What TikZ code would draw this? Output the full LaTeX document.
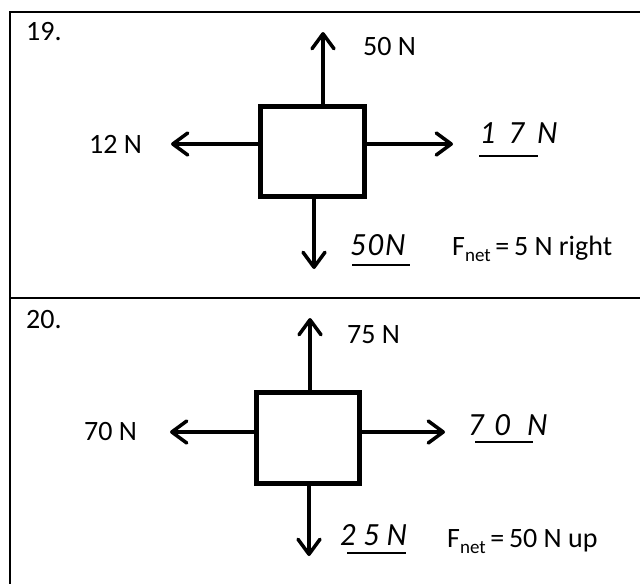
\documentclass[tikz,border=0pt]{standalone}
\usepackage{fontspec}
\setmainfont{Carlito}
\newfontfamily\handfont{Lato}[UprightFont=* Italic]
\usetikzlibrary{arrows.meta}
\tikzset{force/.style={line width=3.5pt, line cap=round,
		-{Straight Barb[length=15pt,width=22pt,round]}
}}
\tikzset{body/.style={draw, line width=5pt, fill=white, inner sep=0pt, outer sep=0pt}}
\tikzset{lbl/.style={font=\fontsize{28}{30}\selectfont, anchor=base west, inner sep=0pt}}
\tikzset{handlbl/.style={font=\handfont\fontsize{29}{30}\selectfont\addfontfeatures{LetterSpace=#1},
		anchor=base west, inner sep=0pt}}
\tikzset{answer/.style={line width=2pt}}
\newcommand{\fnet}{F\raisebox{-0.22em}{\fontsize{19}{20}\selectfont net}\,=\,}

\begin{document}
\begin{tikzpicture}[x=1pt, y=-1pt]
  \useasboundingbox (0,0) rectangle (640,584);
  % frame
  \draw[line width=1.8pt] (640,12)--(10,12)--(10,584);
  \draw[line width=1.8pt] (10,298)--(640,298);

  % 19.
  \node[lbl] (num19) at (26,40) {19.};
  \node[body, minimum width=104pt, minimum height=90pt] (box19) at (312,151) {};
  \coordinate (up19) at (323,32);
  \coordinate (dn19) at (314,269);
  \coordinate (lf19) at (171,144);
  \coordinate (rt19) at (453,144);
  \draw[force] (box19.north -| up19)--(up19);
  \draw[force] (box19.south -| dn19)--(dn19);
  \draw[force] (box19.west |- lf19)--(lf19);
  \draw[force] (box19.east |- rt19)--(rt19);
  \node[lbl] (up19lbl) at (363,55) {50 N};
  \node[lbl] (lf19lbl) at (89,153) {12 N};
  \node[handlbl=40] (rt19lbl) at (480,143) {17N};
  \draw[answer] (479,156)--(538,156);
  \node[handlbl=2] (dn19lbl) at (350,255) {50N};
  \draw[answer] (352,265)--(410,265);
  \node[lbl] (net19) at (452,255) {\fnet 5 N right};

  % 20.
  \node[lbl] (num20) at (26,328) {20.};
  \node[body, minimum width=103pt, minimum height=91pt] (box20) at (307.5,437.5) {};
  \coordinate (up20) at (310,318);
  \coordinate (dn20) at (309,556);
  \coordinate (lf20) at (170,432);
  \coordinate (rt20) at (445,432);
  \draw[force] (box20.north -| up20)--(up20);
  \draw[force] (box20.south -| dn20)--(dn20);
  \draw[force] (box20.west |- lf20)--(lf20);
  \draw[force] (box20.east |- rt20)--(rt20);
  \node[lbl] (up20lbl) at (347,343) {75 N};
  \node[lbl] (lf20lbl) at (84,440) {70 N};
  \node[handlbl=32] (rt20lbl) at (468,435) {70 N};
  \draw[answer] (475,442)--(533,442);
  \node[handlbl=22] (dn20lbl) at (340,545) {25N};
  \draw[answer] (347,553)--(406,553);
  \node[lbl] (net20) at (447,547) {\fnet 50 N up};
\end{tikzpicture}
\end{document}
